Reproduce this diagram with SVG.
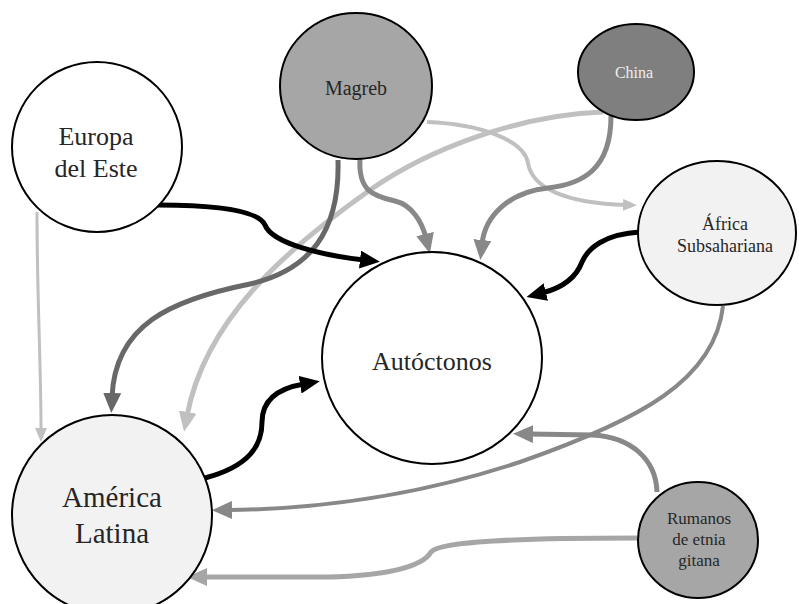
<svg xmlns="http://www.w3.org/2000/svg" width="799" height="604" viewBox="0 0 799 604">
<style>
  .node { stroke: #000; stroke-width: 2; }
  .lbl { font-family: "Liberation Serif", "DejaVu Serif", serif; fill: #262626; text-anchor: middle; }
  .c { fill: none; stroke-linecap: butt; }
</style>
<defs>
  <marker id="ak" markerUnits="userSpaceOnUse" markerWidth="20" markerHeight="18" refX="4" refY="9" orient="auto"><path d="M0,0 L20,9 L0,18 z" fill="#000"/></marker>
  <marker id="ag" markerUnits="userSpaceOnUse" markerWidth="20" markerHeight="18" refX="4" refY="9" orient="auto"><path d="M0,0 L20,9 L0,18 z" fill="#888"/></marker>
  <marker id="ad" markerUnits="userSpaceOnUse" markerWidth="20" markerHeight="18" refX="4" refY="9" orient="auto"><path d="M0,0 L20,9 L0,18 z" fill="#686868"/></marker>
  <marker id="al" markerUnits="userSpaceOnUse" markerWidth="20" markerHeight="18" refX="4" refY="9" orient="auto"><path d="M0,0 L20,9 L0,18 z" fill="#c0c0c0"/></marker>
  <marker id="am" markerUnits="userSpaceOnUse" markerWidth="20" markerHeight="18" refX="4" refY="9" orient="auto"><path d="M0,0 L20,9 L0,18 z" fill="#a6a6a6"/></marker>
  <marker id="als" markerUnits="userSpaceOnUse" markerWidth="14" markerHeight="12" refX="3" refY="6" orient="auto"><path d="M0,0 L14,6 L0,12 z" fill="#c0c0c0"/></marker>
</defs>
<g id="connectors">
  <path class="c" d="M37,212 C37,300 41,360 41,431" stroke="#c0c0c0" stroke-width="3" marker-end="url(#als)"/>
  <path class="c" d="M427,122 C480,124 524,140 528,163 C532,188 565,203 626,205" stroke="#c0c0c0" stroke-width="4" marker-end="url(#als)"/>
  <path class="c" d="M603,112 C520,115 430,148 370,190 C285,250 205,320 187,416" stroke="#c0c0c0" stroke-width="5" marker-end="url(#al)"/>
  <path class="c" d="M637,538 C540,538 440,540 431,552 C422,568 380,576 330,577 L203,577" stroke="#a6a6a6" stroke-width="5" marker-end="url(#am)"/>
  <path class="c" d="M723,306 C715,380 640,420 520,462 C420,495 320,509 228,510" stroke="#888" stroke-width="4" marker-end="url(#ag)"/>
  <path class="c" d="M657,492 C656,460 632,437 592,435 L529,434" stroke="#888" stroke-width="5" marker-end="url(#ag)"/>
  <path class="c" d="M360,158 C358,190 372,196 395,201 C412,205 422,222 426,238" stroke="#888" stroke-width="5" marker-end="url(#ag)"/>
  <path class="c" d="M611,116 C611,170 582,184 548,188 C510,192 485,215 482,244" stroke="#888" stroke-width="5" marker-end="url(#ag)"/>
  <path class="c" d="M338,160 C340,232 310,270 250,284 C170,300 115,325 112,397" stroke="#686868" stroke-width="5" marker-end="url(#ad)"/>
  <path class="c" d="M158,205 C215,205 258,210 265,225 C272,243 320,255 364,260" stroke="#000" stroke-width="5" marker-end="url(#ak)"/>
  <path class="c" d="M640,232 C605,234 588,248 582,262 C576,278 562,288 542,293" stroke="#000" stroke-width="5" marker-end="url(#ak)"/>
  <path class="c" d="M205,478 C250,466 262,445 262,422 C262,398 280,388 304,384" stroke="#000" stroke-width="5" marker-end="url(#ak)"/>
</g>
<g id="europa">
  <ellipse class="node" cx="97" cy="147" rx="85" ry="85" fill="#fff"/>
  <text class="lbl" x="96" y="145" font-size="26">Europa</text>
  <text class="lbl" x="96" y="177" font-size="26">del Este</text>
</g>
<g id="magreb">
  <ellipse class="node" cx="356" cy="86" rx="76" ry="73" fill="#a6a6a6"/>
  <text class="lbl" x="356" y="95" font-size="20">Magreb</text>
</g>
<g id="china">
  <ellipse class="node" cx="636" cy="72" rx="58" ry="48" fill="#7f7f7f"/>
  <text class="lbl" x="634" y="78" font-size="16" style="fill:#eeeeee">China</text>
</g>
<g id="africa">
  <ellipse class="node" cx="717" cy="233" rx="79" ry="72" fill="#f2f2f2"/>
  <text class="lbl" x="725" y="230" font-size="18">África</text>
  <text class="lbl" x="725" y="252" font-size="18">Subsahariana</text>
</g>
<g id="autoctonos">
  <ellipse class="node" cx="432" cy="358" rx="110" ry="106" fill="#fff"/>
  <text class="lbl" x="432" y="370" font-size="26">Autóctonos</text>
</g>
<g id="america">
  <ellipse class="node" cx="112" cy="515" rx="100" ry="100" fill="#f2f2f2"/>
  <text class="lbl" x="112" y="507" font-size="29">América</text>
  <text class="lbl" x="112" y="543" font-size="29">Latina</text>
</g>
<g id="rumanos">
  <ellipse class="node" cx="698" cy="540" rx="60" ry="58" fill="#a6a6a6"/>
  <text class="lbl" x="699" y="524" font-size="17">Rumanos</text>
  <text class="lbl" x="699" y="545" font-size="17">de etnia</text>
  <text class="lbl" x="699" y="566" font-size="17">gitana</text>
</g>
</svg>
